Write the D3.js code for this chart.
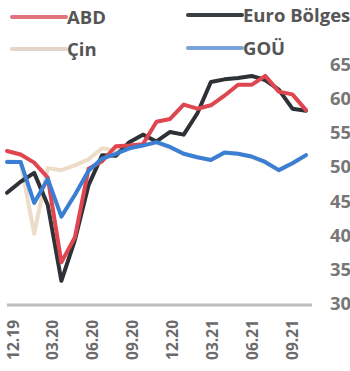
<!DOCTYPE html>
<html>
<head>
<meta charset="utf-8">
<script src="https://cdn.jsdelivr.net/npm/d3@7"></script>
<style>
  html, body { margin: 0; padding: 0; background: #fff; }
  svg { display: block; }
  text { font-family: "Open Sans", "DejaVu Sans", sans-serif; font-weight: 700; }
</style>
</head>
<body>
<svg id="chart" width="350" height="371"></svg>
<script>
// Monthly manufacturing PMI, 12.2019 - 10.2021
const months = ["12.19","01.20","02.20","03.20","04.20","05.20","06.20","07.20","08.20","09.20","10.20","11.20",
                "12.20","01.21","02.21","03.21","04.21","05.21","06.21","07.21","08.21","09.21","10.21"];
const abd  = [52.4, 51.9, 50.7, 48.5, 36.1, 39.8, 49.8, 50.9, 53.1, 53.2, 53.4, 56.7,
              57.1, 59.2, 58.6, 59.1, 60.5, 62.1, 62.1, 63.4, 61.1, 60.7, 58.4];
const euro = [46.3, 47.9, 49.2, 44.5, 33.4, 39.4, 47.4, 51.8, 51.7, 53.7, 54.8, 53.8,
              55.2, 54.8, 57.9, 62.5, 62.9, 63.1, 63.4, 62.8, 61.4, 58.6, 58.3];
const cin  = [50.9, 50.8, 40.3, 49.9, 49.6, 50.3, 51.2, 52.8, 52.5, 52.9, 53.3, 53.6,
              52.9, 52.0, 51.5, 51.1, 52.1, 52.0, 51.5, 50.7, 49.6, 50.6, 51.7];
const gou  = [50.8, 50.8, 44.8, 48.3, 42.8, 46.0, 49.5, 51.3, 52.0, 52.8, 53.2, 53.7,
              53.0, 52.0, 51.5, 51.1, 52.2, 52.0, 51.6, 50.8, 49.6, 50.6, 51.8];
const yTicks = [30, 35, 40, 45, 50, 55, 60, 65];
const xTickLabels = ["12.19","03.20","06.20","09.20","12.20","03.21","06.21","09.21"];

const series = [
  { name: "Çin",          values: cin,  color: "#ecdcc8", width: 4 },
  { name: "Euro Bölgesi", values: euro, color: "#2e3236", width: 4 },
  { name: "ABD",          values: abd,  color: "#df464f", width: 4 },
  { name: "GOÜ",          values: gou,  color: "#3a7fd4", width: 4 }
];

const svg = d3.select("#chart");

const x = d3.scalePoint().domain(months).range([7, 306]);
const y = d3.scaleLinear().domain([30, 65]).range([304, 65]);

// month labels sit on a slightly narrower span than the plotted points
const labelX = d3.scaleLinear()
  .domain([x(xTickLabels[0]), x(xTickLabels[xTickLabels.length - 1])])
  .range([13, 292]);

// baseline
svg.append("line")
  .attr("x1", 7).attr("x2", 312)
  .attr("y1", y(30) + 1).attr("y2", y(30) + 1)
  .attr("stroke", "#bdbdbd").attr("stroke-width", 3);

// right-hand value axis
const yAxis = d3.axisRight(y).tickValues(yTicks).tickSize(0).tickPadding(0);
const gy = svg.append("g").attr("transform", "translate(330,0)").call(yAxis);
gy.select(".domain").remove();
gy.selectAll("text")
  .attr("fill", "#777").attr("font-size", 18.5).attr("dy", "0.3em")
  .attr("font-family", "'Open Sans', sans-serif").attr("font-weight", 700);

// rotated month labels
const gx = svg.append("g");
gx.selectAll("text").data(xTickLabels).join("text")
  .attr("transform", d => `translate(${labelX(x(d))},320) rotate(-90)`)
  .attr("text-anchor", "end")
  .attr("dy", "0.36em")
  .attr("fill", "#6a6a6a")
  .attr("font-size", 15.5)
  .text(d => d);

// lines
const line = d3.line()
  .x((d, i) => x(months[i]))
  .y(d => y(d))
  .curve(d3.curveLinear);

svg.append("g").selectAll("path").data(series).join("path")
  .attr("d", s => line(s.values))
  .attr("fill", "none")
  .attr("stroke", s => s.color)
  .attr("stroke-width", s => s.width)
  .attr("stroke-linejoin", "round")
  .attr("stroke-linecap", "round");

// legend
const legendItems = [
  { name: "ABD",          color: "#e0737b", x: 12,  y: 17 },
  { name: "Euro Bölgesi", color: "#3a3e42", x: 188, y: 15 },
  { name: "Çin",          color: "#e3d6c8", x: 12,  y: 49 },
  { name: "GOÜ",          color: "#7ea3d8", x: 188, y: 48 }
];
const lg = svg.append("g");
legendItems.forEach(it => {
  lg.append("line")
    .attr("x1", it.x).attr("x2", it.x + 54)
    .attr("y1", it.y).attr("y2", it.y)
    .attr("stroke", it.color).attr("stroke-width", 4)
    .attr("stroke-linecap", "round");
  lg.append("text")
    .attr("x", it.x + 55).attr("y", it.y)
    .attr("dy", "0.36em")
    .attr("fill", "#555")
    .attr("font-size", 18.5)
    .text(it.name);
});
</script>
</body>
</html>
